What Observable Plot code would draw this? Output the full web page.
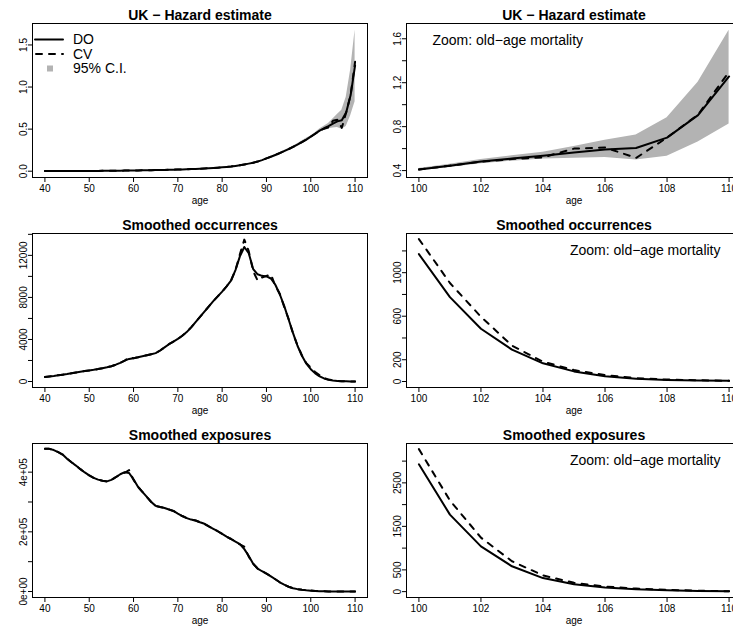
<!DOCTYPE html>
<html><head><meta charset="utf-8">
<script src="https://cdn.jsdelivr.net/npm/d3@7"></script>
<script src="https://cdn.jsdelivr.net/npm/@observablehq/plot@0.6"></script>
<style>
html,body{margin:0;padding:0;background:#fff;overflow:hidden;width:733px;height:630px}
#fig{position:relative;width:748px;height:630px;font-family:"Liberation Sans",Arial,Helvetica,sans-serif}
.panel{position:absolute;width:374px;height:210px}
.panel svg{overflow:visible;display:block}
.legend{position:absolute;left:0;top:0}
</style></head><body><div id="fig"></div>
<script>
// ---------------- data ----------------
const ages = d3.range(40, 111);

const hazardDO = [
 .0012,.0013,.0014,.0016,.0017,.0019,.0021,.0023,.0025,.0028,
 .0031,.0034,.0037,.0041,.0045,.0050,.0055,.0061,.0068,.0076,
 .0085,.0093,.0101,.0110,.0120,.0130,.0142,.0155,.0168,.0182,
 .0197,.0214,.0232,.0252,.0274,.0298,.0324,.0353,.0385,.0420,
 .046,.051,.056,.063,.071,.080,.090,.101,.114,.132,
 .152,.172,.193,.215,.238,.262,.288,.316,.345,.376,
 .410,.445,.482,.510,.535,.565,.592,.605,.700,.905,1.257];
const hazardCV = [
 .0012,.0013,.0014,.0016,.0017,.0019,.0021,.0023,.0025,.0028,
 .0031,.0034,.0037,.0041,.0045,.0050,.0055,.0061,.0068,.0076,
 .0085,.0093,.0101,.0110,.0120,.0130,.0142,.0155,.0168,.0182,
 .0197,.0214,.0232,.0252,.0274,.0298,.0324,.0353,.0385,.0420,
 .046,.051,.056,.063,.071,.080,.090,.101,.114,.132,
 .152,.172,.193,.215,.238,.262,.288,.316,.345,.376,
 .410,.445,.480,.505,.520,.600,.610,.515,.700,.910,1.300];

const ciAges  = d3.range(90, 111);
const ciLower = [.149,.168,.188,.209,.231,.254,.279,.305,.333,.362,
                 .396,.428,.462,.485,.505,.512,.520,.497,.530,.660,.825];
const ciUpper = [.155,.176,.198,.221,.245,.270,.297,.327,.358,.391,
                 .418,.458,.500,.535,.567,.620,.675,.725,.880,1.205,1.677];

const occDO = [
 430,480,530,590,650,710,780,850,920,990,
 1050,1110,1180,1260,1350,1450,1600,1780,1980,2150,
 2220,2300,2400,2500,2600,2700,2950,3250,3550,3800,
 4050,4350,4700,5150,5650,6150,6650,7150,7650,8100,
 8550,9050,9600,10600,11900,12800,12200,10700,10200,10050,
 10000,9800,9200,8300,7200,5900,4600,3400,2450,1700,
 1170,775,485,293,167,93,48,25,15,9,6];
const occCV = [
 430,480,530,590,650,710,780,850,920,990,
 1050,1110,1180,1260,1350,1450,1600,1780,1980,2300,
 2220,2300,2400,2500,2600,2700,2950,3250,3550,3800,
 4050,4350,4700,5150,5650,6150,6650,7150,7650,8100,
 8550,9050,9600,10600,12100,13500,12400,10500,9600,9900,
 10050,10200,9100,8350,7100,5950,4550,3450,2480,1750,
 1309,905,595,330,182,105,59,31,18,12,6];

const expDO = [
 478000,478000,474000,467000,459000,445000,433000,422000,410000,399000,
 389000,381000,375000,371000,369000,374000,383000,393000,400000,397000,
 376000,351000,334000,317000,300000,287000,283000,280000,275000,270000,
 261000,253000,246000,241000,238000,232000,227000,218000,210000,202000,
 193000,184000,176000,167000,159000,142000,119000,93000,77000,68000,
 60000,51000,41000,31000,23000,16000,11000,8000,5700,4000,
 2927,1770,1040,582,311,171,93,54,31,16,8];
const expCV = [
 478000,478000,474000,467000,459000,445000,433000,422000,410000,399000,
 389000,381000,375000,371000,369000,374000,383000,393000,398000,407000,
 374000,351000,334000,317000,300000,287000,283000,280000,275000,270000,
 261000,253000,246000,241000,238000,232000,227000,218000,210000,202000,
 193000,184000,176000,167000,158000,150000,117000,93000,77000,68000,
 60000,51000,41000,31000,23000,16000,11000,8000,5700,4300,
 3276,2096,1242,699,373,202,116,70,39,23,8];

// tick values and labels
const xTicksL = [40,50,60,70,80,90,100,110];
const xTicksR = [100,102,104,106,108,110];
const hazTicksL = [0,0.5,1,1.5],            hazLabL = ["0.0","0.5","1.0","1.5"];
const hazTicksR = [0.4,0.6,0.8,1.0,1.2,1.4,1.6], hazLabR = ["0.4","","0.8","","1.2","","1.6"];
const occTicksL = [0,2000,4000,6000,8000,10000,12000,14000], occLabL = ["0","","4000","","8000","","12000",""];
const occTicksR = [0,200,400,600,800,1000,1200], occLabR = ["0","200","","600","","1000",""];
const expTicksL = [0,100000,200000,300000,400000], expLabL = ["0e+00","","2e+05","","4e+05"];
const expTicksR = [0,500,1000,1500,2000,2500,3000], expLabR = ["0","500","","1500","","2500",""];

const titles = ["UK \u2212 Hazard estimate", "Smoothed occurrences", "Smoothed exposures"];
const noteText = "Zoom: old\u2212age mortality";
const xLabel = "age";
const legendLabels = ["DO", "CV", "95% C.I."];

// ---------------- build ----------------
const FONT = "'Liberation Sans', Arial, Helvetica, sans-serif";
const hazard = ages.map((a,i)=>({age:a, do:hazardDO[i], cv:hazardCV[i]}));
const occ    = ages.map((a,i)=>({age:a, do:occDO[i], cv:occCV[i]}));
const expo   = ages.map((a,i)=>({age:a, do:expDO[i], cv:expCV[i]}));
const ci     = ciAges.map((a,i)=>({age:a, lo:ciLower[i], hi:ciUpper[i]}));
const old = d => d.age >= 100;

function panel(o) {
  const marks = [];
  if (o.ci) marks.push(Plot.areaY(o.ci, {x:"age", y1:"lo", y2:"hi", fill:"#b3b3b3"}));
  marks.push(Plot.line(o.data, {x:"age", y:"do", stroke:"black", strokeWidth:2}));
  marks.push(Plot.line(o.data, {x:"age", y:"cv", stroke:"black", strokeWidth:2, strokeDasharray:"6,7"}));
  marks.push(Plot.frame({stroke:"black", strokeWidth:1}));
  marks.push(Plot.axisX({ticks:o.xTicks, tickSize:5, tickPadding:2.5, fontSize:10, label:null, tickFormat:d=>String(d)}));
  marks.push(Plot.axisY({ticks:o.yTicks, tickSize:4, tickPadding:2, fontSize:10, label:null, tickRotate:-90,
    tickFormat:d=>{const k=o.yTicks.indexOf(d); return k<0?"":o.yLabels[k];}}));
  marks.push(Plot.text([o.title], {text:d=>d, frameAnchor:"top", lineAnchor:"middle", dy:-8, fontSize:14, fontWeight:"bold", fill:"black"}));
  marks.push(Plot.text([xLabel], {text:d=>d, frameAnchor:"bottom", lineAnchor:"middle", dy:23, fontSize:10, fill:"black"}));
  if (o.note) marks.push(Plot.text([noteText], {text:d=>d, frameAnchor:o.note==="left"?"top-left":"top-right",
    lineAnchor:"middle", dx:o.note==="left"?26:-21, dy:17, textAnchor:o.note==="left"?"start":"end", fontSize:14, fill:"black"}));
  return Plot.plot({
    width:374, height:210, marginTop:23, marginRight:7, marginBottom:33, marginLeft:32,
    style:{fontFamily:FONT, background:"white", color:"black"},
    x:{domain:o.xDomain}, y:{domain:o.yDomain},
    marks
  });
}

const specs = [
  {title:titles[0], data:hazard, ci:ci, xDomain:[37.2,112.8], xTicks:xTicksL, yDomain:[-0.075,1.755], yTicks:hazTicksL, yLabels:hazLabL, legend:true},
  {title:titles[0], data:hazard.filter(old), ci:ci.filter(old), xDomain:[99.6,110.4], xTicks:xTicksR, yDomain:[0.337,1.739], yTicks:hazTicksR, yLabels:hazLabR, note:"left"},
  {title:titles[1], data:occ, xDomain:[37.2,112.8], xTicks:xTicksL, yDomain:[-570,14080], yTicks:occTicksL, yLabels:occLabL},
  {title:titles[1], data:occ.filter(old), xDomain:[99.6,110.4], xTicks:xTicksR, yDomain:[-55,1360], yTicks:occTicksR, yLabels:occLabR, note:"right"},
  {title:titles[2], data:expo, xDomain:[37.2,112.8], xTicks:xTicksL, yDomain:[-20000,496000], yTicks:expTicksL, yLabels:expLabL},
  {title:titles[2], data:expo.filter(old), xDomain:[99.6,110.4], xTicks:xTicksR, yDomain:[-135,3405], yTicks:expTicksR, yLabels:expLabR, note:"right"}
];

const fig = document.getElementById("fig");
specs.forEach((s, i) => {
  const div = document.createElement("div");
  div.className = "panel";
  div.style.left = (i % 2) * 374 + "px";
  div.style.top = Math.floor(i / 2) * 210 + "px";
  div.appendChild(panel(s));
  if (s.legend) {
    const lg = d3.create("svg").attr("class","legend").attr("width",120).attr("height",90)
      .style("font-family", FONT).style("overflow","visible");
    const rows = [39.5, 54, 68.5];
    lg.append("line").attr("x1",35).attr("x2",63).attr("y1",rows[0]).attr("y2",rows[0])
      .attr("stroke","black").attr("stroke-width",2).attr("stroke-linecap","round");
    lg.append("line").attr("x1",36).attr("x2",63).attr("y1",rows[1]).attr("y2",rows[1])
      .attr("stroke","black").attr("stroke-width",2).attr("stroke-linecap","round").attr("stroke-dasharray","6,7");
    lg.append("rect").attr("x",47).attr("y",rows[2]-3).attr("width",6).attr("height",6).attr("fill","#b3b3b3");
    legendLabels.forEach((t, k) => lg.append("text").attr("x",73).attr("y",rows[k]).attr("dy","0.35em")
      .attr("font-size",14).attr("fill","black").text(t));
    div.appendChild(lg.node());
  }
  fig.appendChild(div);
});
</script></body></html>
